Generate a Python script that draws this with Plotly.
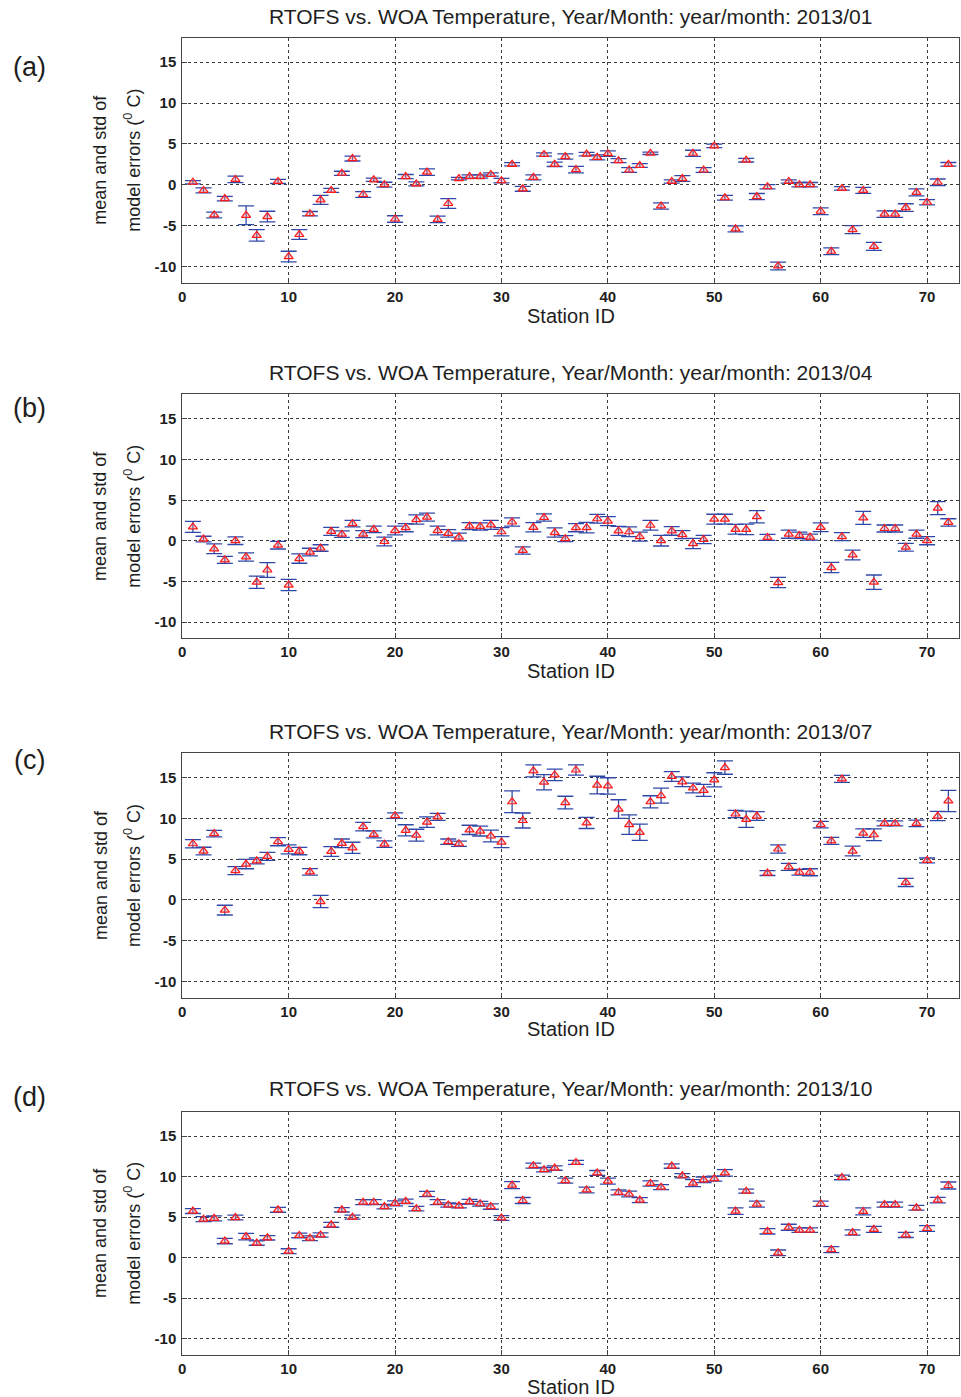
import plotly.graph_objects as go

# Station numbers shared by every month
stations = list(range(1, 73))

months = ["2013/01", "2013/04", "2013/07", "2013/10"]
panel_tags = ["(a)", "(b)", "(c)", "(d)"]

# Mean model error per station (deg C)
mean_jan = [0.3, -0.7, -3.7, -1.7, 0.65, -3.75, -6.2, -3.9, 0.4, -8.8,
            -6.1, -3.55, -1.85, -0.7, 1.4, 3.2, -1.2, 0.6, 0.0, -4.2,
            1.0, 0.1, 1.55, -4.25, -2.3, 0.75, 1.0, 1.0, 1.25, 0.5,
            2.5, -0.5, 0.9, 3.7, 2.5, 3.45, 1.85, 3.75, 3.35, 3.8,
            2.95, 1.8, 2.35, 3.85, -2.6, 0.4, 0.75, 3.85, 1.8, 4.75,
            -1.6, -5.4, 3.0, -1.45, -0.25, -9.95, 0.4, 0.0, 0.0, -3.25,
            -8.15, -0.45, -5.5, -0.7, -7.55, -3.6, -3.6, -2.8, -0.95, -2.15,
            0.3, 2.5]
std_jan = [0.2, 0.3, 0.35, 0.27, 0.4, 1.15, 0.7, 0.65, 0.25, 0.65,
           0.6, 0.27, 0.55, 0.25, 0.25, 0.3, 0.35, 0.2, 0.3, 0.4,
           0.25, 0.25, 0.4, 0.4, 0.6, 0.15, 0.2, 0.2, 0.2, 0.27,
           0.2, 0.3, 0.3, 0.2, 0.27, 0.33, 0.4, 0.22, 0.3, 0.33,
           0.25, 0.3, 0.22, 0.15, 0.38, 0.2, 0.35, 0.37, 0.3, 0.22,
           0.3, 0.37, 0.22, 0.37, 0.27, 0.47, 0.2, 0.27, 0.27, 0.42,
           0.42, 0.22, 0.5, 0.37, 0.5, 0.4, 0.4, 0.47, 0.43, 0.33,
           0.4, 0.22]

mean_apr = [1.7, 0.2, -1.0, -2.35, 0.0, -2.0, -5.1, -3.6, -0.55, -5.45,
            -2.2, -1.4, -0.9, 1.15, 0.8, 2.1, 0.8, 1.4, -0.1, 1.25,
            1.6, 2.6, 2.9, 1.25, 0.9, 0.45, 1.8, 1.75, 1.95, 1.1,
            2.3, -1.2, 1.65, 2.85, 1.0, 0.25, 1.6, 1.6, 2.7, 2.4,
            1.2, 1.1, 0.5, 1.9, 0.0, 1.2, 0.75, -0.35, 0.15, 2.65,
            2.65, 1.4, 1.4, 2.95, 0.4, -5.15, 0.8, 0.65, 0.45, 1.65,
            -3.3, 0.5, -1.75, 2.8, -5.1, 1.5, 1.5, -0.8, 0.8, 0.0,
            4.0, 2.25]
std_apr = [0.67, 0.35, 0.6, 0.43, 0.47, 0.5, 0.75, 0.9, 0.47, 0.7,
           0.57, 0.47, 0.4, 0.5, 0.4, 0.4, 0.43, 0.4, 0.53, 0.53,
           0.5, 0.57, 0.5, 0.53, 0.47, 0.47, 0.43, 0.45, 0.55, 0.5,
           0.5, 0.45, 0.57, 0.45, 0.57, 0.37, 0.5, 0.65, 0.53, 0.55,
           0.55, 0.6, 0.55, 0.6, 0.65, 0.53, 0.5, 0.63, 0.5, 0.6,
           0.6, 0.6, 0.65, 0.75, 0.37, 0.63, 0.5, 0.4, 0.37, 0.53,
           0.63, 0.5, 0.6, 0.8, 0.88, 0.43, 0.43, 0.47, 0.5, 0.5,
           0.8, 0.45]

mean_jul = [6.9, 6.0, 8.15, -1.25, 3.6, 4.4, 4.8, 5.35, 7.15, 6.2,
            6.0, 3.45, -0.2, 5.95, 6.95, 6.4, 9.0, 8.05, 6.85, 10.35,
            8.55, 7.95, 9.55, 10.2, 7.15, 6.9, 8.6, 8.45, 7.85, 7.1,
            12.05, 9.75, 15.85, 14.45, 15.35, 11.95, 15.95, 9.45, 14.1, 14.0,
            11.15, 9.25, 8.3, 12.05, 12.8, 15.15, 14.5, 13.75, 13.45, 14.75,
            16.25, 10.55, 9.9, 10.3, 3.3, 6.25, 4.05, 3.4, 3.4, 9.25,
            7.25, 14.85, 6.0, 8.2, 8.0, 9.4, 9.4, 2.15, 9.4, 4.85,
            10.3, 12.15]
std_jul = [0.5, 0.47, 0.4, 0.6, 0.5, 0.57, 0.37, 0.5, 0.5, 0.55,
           0.45, 0.4, 0.75, 0.6, 0.53, 0.68, 0.53, 0.43, 0.4, 0.33,
           0.68, 0.73, 0.65, 0.43, 0.33, 0.33, 0.57, 0.6, 0.73, 0.68,
           1.33, 0.92, 0.74, 0.94, 0.7, 0.78, 0.63, 0.68, 1.08, 1.0,
           1.15, 1.2, 1.0, 0.74, 0.92, 0.6, 0.6, 0.6, 0.74, 0.86,
           0.82, 0.45, 1.0, 0.53, 0.3, 0.5, 0.43, 0.35, 0.43, 0.4,
           0.43, 0.43, 0.6, 0.53, 0.72, 0.3, 0.3, 0.5, 0.4, 0.3,
           0.57, 1.3]

mean_oct = [5.75, 4.75, 4.85, 2.05, 4.95, 2.6, 1.8, 2.45, 5.9, 0.8,
            2.75, 2.4, 2.8, 4.05, 5.9, 5.0, 6.85, 6.85, 6.3, 6.7,
            6.95, 6.05, 7.85, 6.85, 6.5, 6.4, 6.9, 6.65, 6.3, 4.9,
            8.95, 7.05, 11.35, 10.85, 11.05, 9.5, 11.75, 8.35, 10.45, 9.45,
            8.05, 7.85, 7.1, 9.15, 8.7, 11.3, 10.1, 9.2, 9.6, 9.75,
            10.45, 5.75, 8.2, 6.6, 3.25, 0.6, 3.75, 3.4, 3.4, 6.65,
            1.0, 9.9, 3.1, 5.7, 3.5, 6.55, 6.55, 2.8, 6.15, 3.6,
            7.1, 8.9]
std_oct = [0.3, 0.3, 0.3, 0.33, 0.3, 0.4, 0.27, 0.27, 0.3, 0.3,
           0.29, 0.3, 0.27, 0.3, 0.27, 0.25, 0.3, 0.3, 0.27, 0.3,
           0.27, 0.27, 0.33, 0.3, 0.27, 0.25, 0.3, 0.3, 0.33, 0.29,
           0.43, 0.37, 0.3, 0.27, 0.27, 0.3, 0.25, 0.35, 0.3, 0.37,
           0.3, 0.35, 0.3, 0.33, 0.3, 0.27, 0.27, 0.43, 0.35, 0.3,
           0.4, 0.4, 0.25, 0.37, 0.33, 0.35, 0.37, 0.27, 0.27, 0.33,
           0.37, 0.29, 0.33, 0.43, 0.37, 0.31, 0.31, 0.31, 0.29, 0.35,
           0.33, 0.43]

x_ticks = [0, 10, 20, 30, 40, 50, 60, 70]
y_ticks = [-10, -5, 0, 5, 10, 15]

means = [mean_jan, mean_apr, mean_jul, mean_oct]
stds = [std_jan, std_apr, std_jul, std_oct]

# ---- page geometry (pixels) ----
W, H = 961, 1397
PLOT_LEFT, PLOT_RIGHT = 179, 959
panel_tops = [37.7, 394.3, 753.3, 1111.7]
panel_bottoms = [282.7, 638.3, 997.7, 1355.0]
title_y = [16, 372, 731, 1088]
xlabel_y = [316, 671, 1029, 1387]
tag_y = [67, 408, 760, 1097]

FONT = "Liberation Sans, Arial, Helvetica, sans-serif"
ERR_BLUE = "#2f48a8"
TEXT = "#1e1e1e"


def fx(px):
    return px / W


def fy(py):
    return 1 - py / H


fig = go.Figure()
annotations = []
layout = dict(
    width=W, height=H,
    margin=dict(l=0, r=0, t=0, b=0),
    paper_bgcolor="white", plot_bgcolor="white",
    showlegend=False,
    font=dict(family=FONT, color=TEXT),
)

for i in range(4):
    k = "" if i == 0 else str(i + 1)
    fig.add_trace(go.Scatter(
        x=stations, y=means[i],
        mode="markers",
        xaxis="x" + k, yaxis="y" + k,
        error_y=dict(type="data", array=stds[i], visible=True,
                     color=ERR_BLUE, thickness=1.3, width=8),
        marker=dict(symbol="triangle-up", size=8,
                    color="rgba(255,130,130,0.35)",
                    line=dict(color="#ff1a1a", width=1.2)),
        hoverinfo="skip",
    ))

    axis_common = dict(
        showline=True, mirror=True, linecolor="#444", linewidth=1,
        ticks="inside", ticklen=5, tickcolor="#444",
        showgrid=True, gridcolor="#3a3a3a", gridwidth=1, griddash="3px,3px",
        zeroline=False,
        tickfont=dict(family=FONT, size=15, color=TEXT, weight="bold"),
    )
    layout["xaxis" + k] = dict(
        axis_common,
        domain=[fx(PLOT_LEFT), fx(PLOT_RIGHT)],
        range=[0, 73], tickvals=x_ticks,
        ticktext=[str(v) for v in x_ticks],
        anchor="y" + k,
        ticklabelstandoff=0,
    )
    layout["yaxis" + k] = dict(
        axis_common,
        domain=[fy(panel_bottoms[i]), fy(panel_tops[i])],
        range=[-12, 18], tickvals=y_ticks,
        ticktext=[str(v) for v in y_ticks],
        anchor="x" + k,
        ticklabelstandoff=2,
    )

    mid_x = (PLOT_LEFT + PLOT_RIGHT) / 2
    mid_y = (panel_tops[i] + panel_bottoms[i]) / 2
    annotations += [
        dict(text="RTOFS vs. WOA Temperature, Year/Month: year/month: " + months[i],
             x=fx(mid_x), y=fy(title_y[i]), xref="paper", yref="paper",
             showarrow=False, xanchor="center", yanchor="middle",
             font=dict(family=FONT, size=21, color=TEXT)),
        dict(text="Station ID",
             x=fx(mid_x), y=fy(xlabel_y[i]), xref="paper", yref="paper",
             showarrow=False, xanchor="center", yanchor="middle",
             font=dict(family=FONT, size=20, color=TEXT)),
        dict(text="mean and std of",
             x=fx(97), y=fy(mid_y), xref="paper", yref="paper",
             showarrow=False, textangle=-90, xanchor="center", yanchor="middle",
             font=dict(family=FONT, size=18, color=TEXT)),
        dict(text="model errors (<sup>0</sup> C)",
             x=fx(129), y=fy(mid_y), xref="paper", yref="paper",
             showarrow=False, textangle=-90, xanchor="center", yanchor="middle",
             font=dict(family=FONT, size=18, color=TEXT)),
        dict(text=panel_tags[i],
             x=fx(26), y=fy(tag_y[i]), xref="paper", yref="paper",
             showarrow=False, xanchor="center", yanchor="middle",
             font=dict(family=FONT, size=27, color=TEXT)),
    ]

layout["annotations"] = annotations
fig.update_layout(**layout)
fig.write_html("out.html")
